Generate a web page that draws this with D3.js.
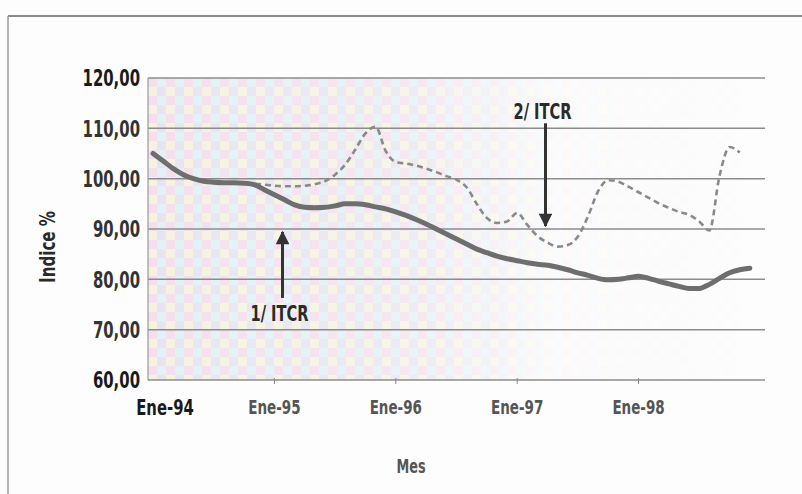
<!DOCTYPE html>
<html><head><meta charset="utf-8">
<script src="https://cdn.jsdelivr.net/npm/d3@7/dist/d3.min.js"></script>
<style>
body{margin:0;background:#fff;}
svg{display:block;}
text{font-family:"DejaVu Sans Condensed","Liberation Sans Narrow",sans-serif;font-weight:bold;}
</style></head>
<body><svg id="c" width="802" height="494"></svg>
<script>
// ---- data ----
const months = d3.range(0, 60); // Ene-94 .. Dic-98
const itcr1 = [105.0,103.5,102.0,100.8,100.0,99.5,99.3,99.2,99.2,99.1,98.8,97.8,
  96.8,95.8,94.8,94.3,94.2,94.3,94.6,95.0,95.0,94.8,94.4,94.0,
  93.4,92.7,91.9,91.0,90.0,89.0,88.0,87.0,86.0,85.3,84.6,84.1,
  83.7,83.3,83.0,82.8,82.4,81.9,81.3,80.8,80.2,79.9,80.0,80.3,
  80.6,80.2,79.6,79.1,78.6,78.2,78.2,79.0,80.2,81.3,81.9,82.2];
const itcr2 = [105.0,103.4,101.9,100.7,99.9,99.5,99.3,99.2,99.1,99.0,99.0,98.8,
  98.6,98.5,98.5,98.6,98.9,99.5,100.8,102.8,105.8,109.0,110.3,105.5,
  103.3,103.0,102.6,102.0,101.3,100.5,99.8,98.3,95.0,92.2,91.2,91.5,
  93.2,90.8,88.6,87.3,86.5,86.8,88.5,92.5,97.5,99.7,99.4,98.4,
  97.3,96.2,95.1,94.2,93.4,92.8,91.5,89.7,100.5,106.3,105.2];
const yTicks = [60,70,80,90,100,110,120];
const yTickLabels = ["60,00","70,00","80,00","90,00","100,00","110,00","120,00"];
const xTickMonths = [0,12,24,36,48];
const xTickLabels = ["Ene-94","Ene-95","Ene-96","Ene-97","Ene-98"];
const note1 = {label:"1/ ITCR", month:12.8, from:76.3, to:89.4, textAt:73.3};
const note2 = {label:"2/ ITCR", month:38.8, from:111.0, to:90.6, textAt:113.5};

// ---- layout ----
const svg = d3.select("#c");
const L=148, R=765, T=78, B=380;
const x = d3.scaleLinear().domain([-0.5,60.5]).range([L,R]);
const y = d3.scaleLinear().domain([60,120]).range([B,T]);

const defs = svg.append("defs");
const pat = defs.append("pattern").attr("id","dots").attr("width",18).attr("height",18)
  .attr("patternUnits","userSpaceOnUse").attr("x",L).attr("y",T);
[["#f3d6e8",0,0],["#d8eef2",9,0],["#f2efd6",0,9],["#e2dcf0",9,9]].forEach(([c,px,py])=>{
  pat.append("rect").attr("x",px).attr("y",py).attr("width",9).attr("height",9).attr("fill",c);
});
const grad = defs.append("linearGradient").attr("id","fade").attr("gradientUnits","userSpaceOnUse")
  .attr("x1",L).attr("x2",R).attr("y1",0).attr("y2",0);
grad.append("stop").attr("offset","0").attr("stop-color","#fff").attr("stop-opacity",0.8);
grad.append("stop").attr("offset","0.45").attr("stop-color","#fff").attr("stop-opacity",0.55);
grad.append("stop").attr("offset","0.65").attr("stop-color","#fff").attr("stop-opacity",0.12);
grad.append("stop").attr("offset","1").attr("stop-color","#fff").attr("stop-opacity",0);
const mask = defs.append("mask").attr("id","fm");
mask.append("rect").attr("x",L).attr("y",T).attr("width",R-L).attr("height",B-T).attr("fill","url(#fade)");
defs.append("marker").attr("id","ah").attr("viewBox","0 0 10 10").attr("refX",9).attr("refY",5)
  .attr("markerWidth",6).attr("markerHeight",4.5).attr("markerUnits","strokeWidth").attr("orient","auto")
  .append("path").attr("d","M0,0 L10,5 L0,10 Z").attr("fill","#333");

// frame
svg.append("rect").attr("width",802).attr("height",494).attr("fill","#fdfdfd");
svg.append("line").attr("x1",8).attr("x2",802).attr("y1",16).attr("y2",16).attr("stroke","#8a8a8a").attr("stroke-width",2);
svg.append("line").attr("x1",8).attr("x2",8).attr("y1",16).attr("y2",494).attr("stroke","#9a9a9a").attr("stroke-width",1.5);

// plot background
svg.append("rect").attr("x",L).attr("y",T).attr("width",R-L).attr("height",B-T)
  .attr("fill","url(#dots)").attr("mask","url(#fm)");

// grid
svg.append("g").selectAll("line").data(yTicks).join("line")
  .attr("x1",L).attr("x2",R).attr("y1",d=>y(d)).attr("y2",d=>y(d))
  .attr("stroke","#8c8c8c").attr("stroke-width",1.5);
svg.append("line").attr("x1",L).attr("x2",L).attr("y1",T).attr("y2",B).attr("stroke","#999").attr("stroke-width",1.2);

// x ticks
svg.append("g").selectAll("line").data(xTickMonths.slice(1)).join("line")
  .attr("x1",d=>x(d)).attr("x2",d=>x(d)).attr("y1",B-2).attr("y2",B+4).attr("stroke","#888").attr("stroke-width",1);

function ctext(px, py, txt, size, sx, fill, anchor){
  const g = svg.append("g").attr("transform",`translate(${px},${py}) scale(${sx},1)`);
  return g.append("text").attr("text-anchor",anchor||"middle").attr("dy","0.36em")
    .attr("font-size",size).attr("fill",fill).text(txt);
}

// y labels
yTicks.forEach((d,i)=>ctext(140, y(d), yTickLabels[i], 23, 0.72, (i===6||i===0)?"#1a1a1a":"#333", "end"));

// x labels
xTickMonths.forEach((d,i)=>{
  ctext(i===0?165:x(d), 407, xTickLabels[i], i===0?22:20, i===0?0.75:0.75, i===0?"#1a1a1a":"#555");
});

// axis titles
svg.append("g").attr("transform","translate(47,247) rotate(-90) scale(0.8,1)")
  .append("text").attr("text-anchor","middle").attr("dy","0.36em")
  .attr("font-size",21).attr("fill","#2a2a2a").text("Indice %");
ctext(411, 466, "Mes", 19, 0.75, "#555");

// lines
const line = d3.line().x((d,i)=>x(months[i])).y(d=>y(d)).curve(d3.curveMonotoneX);
svg.append("path").attr("d",line(itcr2)).attr("fill","none").attr("stroke","#8a8a8a")
  .attr("stroke-width",2.6).attr("stroke-dasharray","6,4");
svg.append("path").attr("d",line(itcr1)).attr("fill","none").attr("stroke","#6e6e6e")
  .attr("stroke-width",5).attr("stroke-linecap","round").attr("stroke-linejoin","round");

// annotations
[note1,note2].forEach(n=>{
  svg.append("line").attr("x1",x(n.month)).attr("x2",x(n.month)).attr("y1",y(n.from)).attr("y2",y(n.to))
    .attr("stroke","#333").attr("stroke-width",3).attr("marker-end","url(#ah)");
  ctext(x(n.month)-3, y(n.textAt), n.label, 22, 0.74, "#2a2a2a");
});
</script></body></html>
